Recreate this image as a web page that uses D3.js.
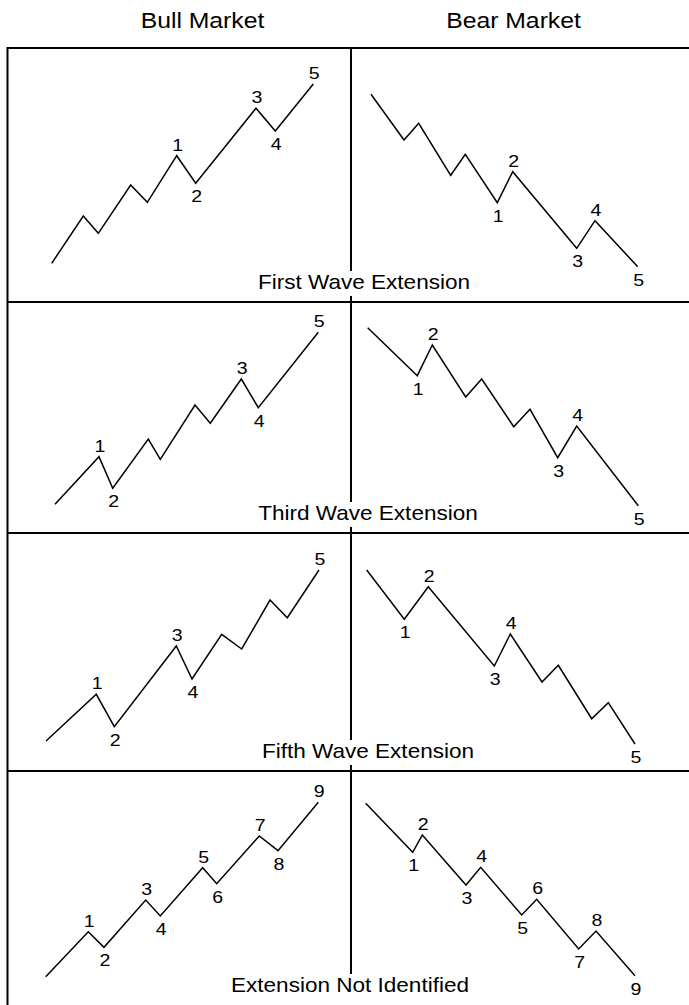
<!DOCTYPE html>
<html lang="en">
<head>
<meta charset="utf-8">
<title>Wave extensions: bull and bear markets</title>
<script src="https://cdn.jsdelivr.net/npm/d3@7"></script>
<style>
  body { margin:0; background:#fff; }
  svg { display:block; font-family:"Liberation Sans", Arial, Helvetica, sans-serif; }
</style>
</head>
<body>
<div id="chart"></div>
<script>
// column and row headings
var columnTitles = ["Bull Market", "Bear Market"]
var rowTitles = ["First Wave Extension", "Third Wave Extension", "Fifth Wave Extension", "Extension Not Identified"]

// each wave: [time, price] measured inside its cell
var firstBull = [[44.7,38.7],[76.3,86],[91.3,68.7],[123.7,117],[140.3,99.7],[169.7,146.3],[188.7,118.7],[249,193.7],[268.3,171],[306.3,218]]
var firstBear = [[20,207.7],[53,162],[67.7,178.7],[99.7,126.7],[114.3,147.7],[146.3,99.3],[161.7,130.3],[225.7,53.7],[244,81.3],[286.7,35.3]]
var thirdBull = [[48,28.7],[92,76.3],[105.7,44.7],[141.3,94],[153.3,73.7],[188,128],[203.3,109.7],[234.3,154],[251.3,125.3],[311.3,200.7]]
var thirdBear = [[16.7,205.3],[66.3,157.3],[81.3,188],[114.7,136],[130.7,154],[162.7,106.3],[179,123.7],[206.7,75.3],[225.7,107],[287.3,27.3]]
var fifthBull = [[39,30],[89.3,76.7],[107.3,44.3],[169.3,125],[185,92],[214.7,136.7],[234.7,122],[263,171],[280.3,153.3],[312,201]]
var fifthBear = [[15.7,201],[53.3,151.7],[77.3,184.3],[143.3,105],[159.3,137],[191,89],[207.3,105.7],[240.7,52.3],[257.3,68.3],[284,27]]
var noExtBull = [[38.7,28.3],[81.3,73.3],[97,57.7],[138.7,105],[153.3,89],[195.7,137.3],[209.7,121.3],[252.3,169],[271,154.3],[311.3,202.7]]
var noExtBear = [[14.7,201.7],[61.7,152.7],[71.3,170],[115,120],[129.7,137.7],[170.7,90],[185.7,105.7],[227.7,56],[245,74],[284,29.3]]

// wave numbers written at each turning point ("" = no number)
var firstLabels = ["","","","","","1","2","3","4","5"]
var thirdLabels = ["","1","2","","","","","3","4","5"]
var fifthLabels = ["","1","2","3","4","","","","","5"]
var noExtLabels = ["","1","2","3","4","5","6","7","8","9"]

var rows = [
  {title:rowTitles[0], waves:[firstBull, firstBear], labels:firstLabels},
  {title:rowTitles[1], waves:[thirdBull, thirdBear], labels:thirdLabels},
  {title:rowTitles[2], waves:[fifthBull, fifthBear], labels:fifthLabels},
  {title:rowTitles[3], waves:[noExtBull, noExtBear], labels:noExtLabels}
]

var width = 689, height = 1005
var colEdges = [7, 351, 689]
var rowEdges = [48, 302, 533, 771, 1005]
var titleShift = [13, 17, 17, -1]
var cellW = 344

var svg = d3.select("#chart").append("svg").attr("width", width).attr("height", height)

// centre divider first, so the row titles can sit over it
svg.append("line")
  .attr("x1", colEdges[1]).attr("x2", colEdges[1])
  .attr("y1", rowEdges[0]).attr("y2", height)
  .attr("stroke", "#000").attr("stroke-width", 2)

svg.selectAll(".colTitle")
  .data(columnTitles)
  .enter()
  .append("text")
  .attr("class", "colTitle")
  .attr("text-anchor", "middle")
  .attr("font-size", 22.5)
  .attr("transform", function(d, i){
    var cx = i == 0 ? 202.5 : 513.5
    return "translate(" + cx + ",27.5) scale(1.1,1)"
  })
  .text(function(d){ return d })

var line = d3.line().x(function(d){ return d[0] }).y(function(d){ return d[1] })

rows.forEach(function(row, r){
  var top = rowEdges[r], bottom = rowEdges[r+1]
  var y = d3.scaleLinear().domain([0, bottom - top]).range([bottom, top])

  row.waves.forEach(function(wave, c){
    var x = d3.scaleLinear().domain([0, cellW]).range([colEdges[c], colEdges[c] + cellW])
    var pts = wave.map(function(d){ return [x(d[0]), y(d[1])] })

    svg.append("path")
      .attr("d", line(pts))
      .attr("fill", "none")
      .attr("stroke", "#000")
      .attr("stroke-width", 1.5)
      .attr("stroke-linejoin", "miter")

    svg.selectAll(".lab" + r + c)
      .data(wave)
      .enter()
      .filter(function(d, i){ return row.labels[i] != "" })
      .append("text")
      .attr("class", "lab" + r + c)
      .attr("text-anchor", "middle")
      .attr("font-size", 17)
      .attr("transform", function(d){
        var i = wave.indexOf(d)
        var prev = wave[i-1], next = wave[i+1]
        var up = next ? (d[1] > prev[1] && d[1] > next[1]) : d[1] > prev[1]
        var ty = up ? y(d[1]) - 5 : y(d[1]) + 19
        return "translate(" + (x(d[0]) + 1) + "," + ty + ") scale(1.15,1)"
      })
      .text(function(d){ return row.labels[wave.indexOf(d)] })
  })

  // row title with a white box that breaks the centre divider
  var base = r == rows.length - 1 ? bottom - 13 : bottom - 13
  var g = svg.append("g")
  var t = g.append("text")
    .attr("text-anchor", "middle")
    .attr("font-size", 20.5)
    .attr("transform", "translate(" + (colEdges[1] + titleShift[r]) + "," + base + ") scale(1.1,1)")
    .text(row.title)
  var bb = t.node().getBBox()
  var w = bb.width * 1.1 + 6
  var boxBottom = r == rows.length - 1 ? height : base + 7
  g.insert("rect", "text")
    .attr("x", colEdges[1] + titleShift[r] - w/2)
    .attr("y", base - 18)
    .attr("width", w)
    .attr("height", boxBottom - (base - 18))
    .attr("fill", "#fff")
})

// frame: top line, row dividers and left border
svg.selectAll(".hline")
  .data(rowEdges.slice(0, 4))
  .enter()
  .append("line")
  .attr("class", "hline")
  .attr("x1", colEdges[0]).attr("x2", width)
  .attr("y1", function(d){ return d }).attr("y2", function(d){ return d })
  .attr("stroke", "#000").attr("stroke-width", 2)

svg.append("line")
  .attr("x1", colEdges[0] + 0.5).attr("x2", colEdges[0] + 0.5)
  .attr("y1", rowEdges[0] - 1).attr("y2", height)
  .attr("stroke", "#000").attr("stroke-width", 2)
</script>
</body>
</html>
